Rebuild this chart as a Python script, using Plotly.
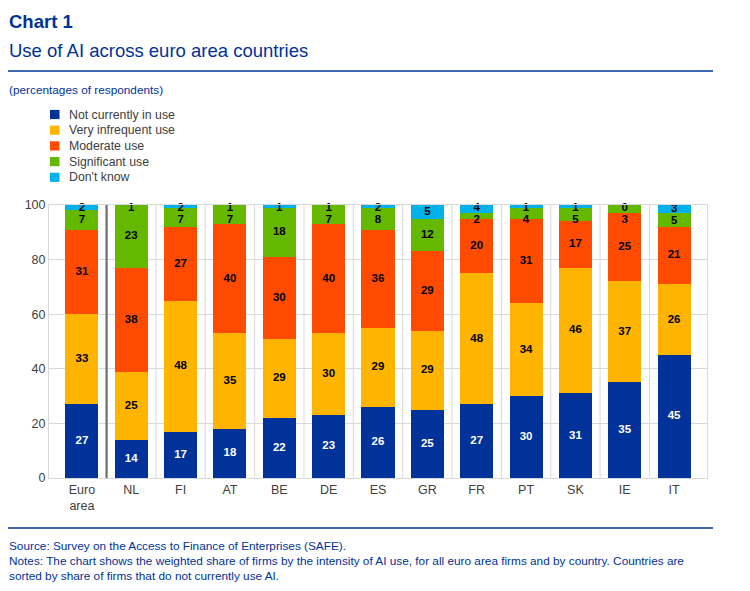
import plotly.graph_objects as go

categories = ["Euro<br>area", "NL", "FI", "AT", "BE", "DE", "ES", "GR", "FR", "PT", "SK", "IE", "IT"]
not_in_use = [27, 14, 17, 18, 22, 23, 26, 25, 27, 30, 31, 35, 45]
very_infrequent = [33, 25, 48, 35, 29, 30, 29, 29, 48, 34, 46, 37, 26]
moderate = [31, 38, 27, 40, 30, 40, 36, 29, 20, 31, 17, 25, 21]
significant = [7, 23, 7, 7, 18, 7, 8, 12, 2, 4, 5, 3, 5]
dont_know = [2, 1, 2, 1, 1, 1, 2, 5, 4, 1, 1, 0, 3]

series_names = ["Not currently in use", "Very infrequent use", "Moderate use", "Significant use", "Don't know"]
series_values = [not_in_use, very_infrequent, moderate, significant, dont_know]
colors = ["#003299", "#FFB400", "#FF4B00", "#65B800", "#00B1EA"]
text_colors = ["white", "black", "black", "black", "black"]

FONT = "Liberation Sans"
BLUE = "#003299"
GREY_TXT = "#404040"
GRID = "#D9D9D9"

# the page places the figure 8px in from the top-left corner
OFF = 8
W, H = 750, 591
ML, MR, MT, MB = 49 - OFF, 43 + OFF, 205 - OFF, 113 + OFF

fig = go.Figure()
for name, vals, col in zip(series_names, series_values, colors):
    fig.add_trace(go.Bar(x=categories, y=vals, name=name, marker=dict(color=col, line=dict(width=0)),
                         hoverinfo="skip", showlegend=False))

# label positions: segment centres, nudged apart for tiny segments
n = len(categories)
positions = [[0.0] * n for _ in series_values]
for i in range(n):
    base = 0
    centres = []
    for vals in series_values:
        centres.append(base + vals[i] / 2)
        base += vals[i]
    pos = [0.0] * 5
    pos[4] = min(centres[4], 98.8)
    for k in range(3, -1, -1):
        pos[k] = min(centres[k], pos[k + 1] - 4.5)
    for k in range(5):
        positions[k][i] = pos[k]

for k, vals in enumerate(series_values):
    fig.add_trace(go.Scatter(x=categories, y=positions[k], mode="text",
                             text=["<b>%d</b>" % v for v in vals],
                             textfont=dict(family=FONT, size=11.5, color=text_colors[k]),
                             showlegend=False, hoverinfo="skip", cliponaxis=False))

fig.update_layout(
    width=W, height=H,
    barmode="stack", bargap=0.33,
    plot_bgcolor="white", paper_bgcolor="white",
    margin=dict(l=ML, r=MR, t=MT, b=MB, autoexpand=False),
    font=dict(family=FONT, color=GREY_TXT),
    showlegend=False,
    xaxis=dict(tickfont=dict(size=12.5, color=GREY_TXT), showgrid=False,
               showline=True, linecolor=GRID, mirror=True, ticks="", fixedrange=True),
    yaxis=dict(range=[0, 100], dtick=20, tickfont=dict(size=12.5, color=GREY_TXT),
               showgrid=True, gridcolor=GRID, showline=True, linecolor=GRID, mirror=True,
               zeroline=False, ticks="", fixedrange=True),
)

# vertical gridlines between categories
for i in range(1, n):
    fig.add_shape(type="line", xref="x", yref="paper", x0=i - 0.5, x1=i - 0.5, y0=0, y1=1,
                  line=dict(color=GRID, width=1), layer="below")

# separator between euro area and countries
fig.add_shape(type="line", xref="x", yref="paper", x0=0.5, x1=0.5, y0=0, y1=1,
              line=dict(color="#6E6E6E", width=2.2))


# convert on-screen pixel positions to paper coordinates of the plot domain
def paper_x(px):
    return (px - OFF - ML) / (W - ML - MR)


def paper_y(py):
    return (H - MB - (py - OFF)) / (H - MT - MB)


def ptxt(px, py, s, size, color=BLUE):
    fig.add_annotation(x=paper_x(px), y=paper_y(py), xref="paper", yref="paper", xanchor="left",
                       yanchor="middle", text=s, showarrow=False,
                       font=dict(family=FONT, size=size, color=color))


ptxt(7, 21, "<b>Chart 1</b>", 18.5)
ptxt(7, 50, "Use of AI across euro area countries", 18.5)
ptxt(7, 90, "(percentages of respondents)", 11.8)
ptxt(7, 546, "Source: Survey on the Access to Finance of Enterprises (SAFE).", 11.8)
ptxt(7, 561, "Notes: The chart shows the weighted share of firms by the intensity of AI use, for all euro area firms and by country. Countries are", 11.8)
ptxt(7, 576, "sorted by share of firms that do not currently use AI.", 11.8)

for py in (71, 528):
    fig.add_shape(type="line", xref="paper", yref="paper", x0=paper_x(7), x1=paper_x(713),
                  y0=paper_y(py), y1=paper_y(py), line=dict(color=BLUE, width=1.5))

# legend (drawn manually for exact spacing)
for j, (name, col) in enumerate(zip(series_names, colors)):
    cy = 114.5 + j * 15.7
    fig.add_shape(type="rect", xref="paper", yref="paper",
                  x0=paper_x(50), x1=paper_x(59.5), y0=paper_y(cy - 4.6), y1=paper_y(cy + 4.6),
                  line=dict(width=0), fillcolor=col)
    ptxt(67, cy, name, 12.3, GREY_TXT)

fig.write_html("out.html")
